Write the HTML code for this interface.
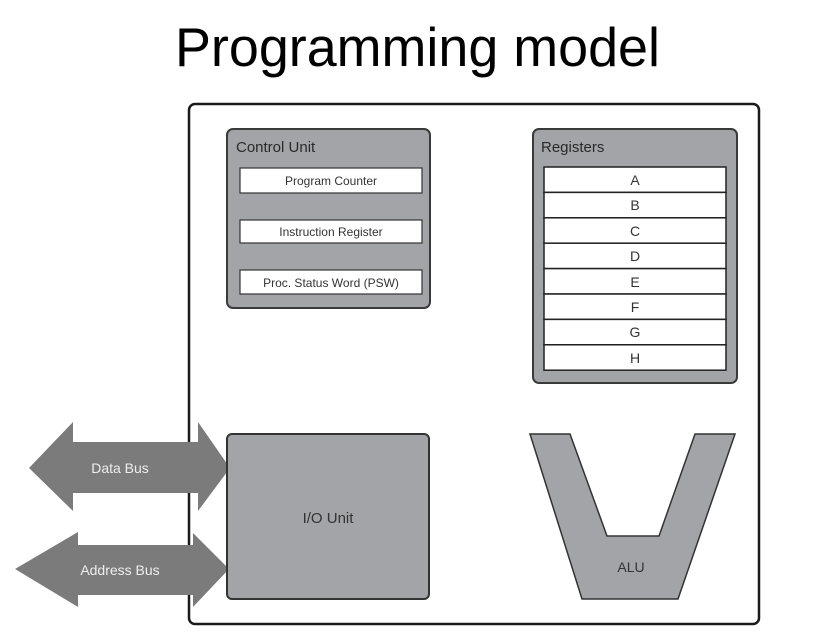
<!DOCTYPE html>
<html><head><meta charset="utf-8"><style>html,body{margin:0;padding:0;background:#fff}svg{display:block}</style></head>
<body>
<svg width="825" height="636" viewBox="0 0 825 636" xmlns="http://www.w3.org/2000/svg" font-family="Liberation Sans, sans-serif">
<rect width="825" height="636" fill="#fff"/>
<text x="175" y="66" font-size="55" textLength="485" lengthAdjust="spacingAndGlyphs" fill="#000">Programming model</text>
<rect x="189" y="104" width="570" height="520" rx="6" fill="#fff" stroke="#1a1a1a" stroke-width="2.5"/>
<!-- Control unit -->
<rect x="227" y="129" width="203" height="179" rx="6" fill="#a3a4a8" stroke="#3a3a3a" stroke-width="2"/>
<text x="236" y="152" font-size="15" fill="#2a2a2a">Control Unit</text>
<g fill="#fff" stroke="#333" stroke-width="1.2">
<rect x="240" y="168" width="182" height="25"/>
<rect x="240" y="220" width="182" height="23"/>
<rect x="240" y="270" width="182" height="24"/>
</g>
<g font-size="12" fill="#333" text-anchor="middle">
<text x="331" y="185">Program Counter</text>
<text x="331" y="236">Instruction Register</text>
<text x="331" y="287">Proc. Status Word (PSW)</text>
</g>
<!-- Registers -->
<rect x="533" y="129" width="204" height="254" rx="6" fill="#a3a4a8" stroke="#3a3a3a" stroke-width="2"/>
<text x="541" y="152" font-size="15" fill="#2a2a2a">Registers</text>
<g fill="#fff" stroke="#222" stroke-width="1.5">
<rect x="544" y="167" width="182" height="25.4"/>
<rect x="544" y="192.4" width="182" height="25.4"/>
<rect x="544" y="217.8" width="182" height="25.4"/>
<rect x="544" y="243.2" width="182" height="25.4"/>
<rect x="544" y="268.6" width="182" height="25.4"/>
<rect x="544" y="294" width="182" height="25.4"/>
<rect x="544" y="319.4" width="182" height="25.4"/>
<rect x="544" y="344.8" width="182" height="25.4"/>
</g>
<g font-size="14" fill="#333" text-anchor="middle">
<text x="635" y="185">A</text><text x="635" y="210">B</text><text x="635" y="236">C</text><text x="635" y="261">D</text>
<text x="635" y="287">E</text><text x="635" y="312">F</text><text x="635" y="337">G</text><text x="635" y="363">H</text>
</g>
<!-- Buses -->
<g fill="#7b7b7b">
<polygon points="29,468 73,422 73,442 198,442 198,422 230,468 198,511 198,493 73,493 73,511"/>
<polygon points="15,569 78,532 78,545 193,545 193,533 229,569 193,607 193,595 78,595 78,607"/>
</g>
<g font-size="14" fill="#eee" text-anchor="middle">
<text x="120" y="473">Data Bus</text>
<text x="120" y="575">Address Bus</text>
</g>
<!-- I/O -->
<rect x="227" y="434" width="202" height="165" rx="5" fill="#a3a4a8" stroke="#333" stroke-width="2"/>
<text x="328" y="523" font-size="15" fill="#333" text-anchor="middle">I/O Unit</text>
<!-- ALU -->
<polygon points="530,434 570,434 607,536 659,536 695,434 735,434 678,599 582,599" fill="#a3a4a8" stroke="#333" stroke-width="1.5"/>
<text x="631" y="572" font-size="14" fill="#333" text-anchor="middle">ALU</text>
</svg>
</body></html>
